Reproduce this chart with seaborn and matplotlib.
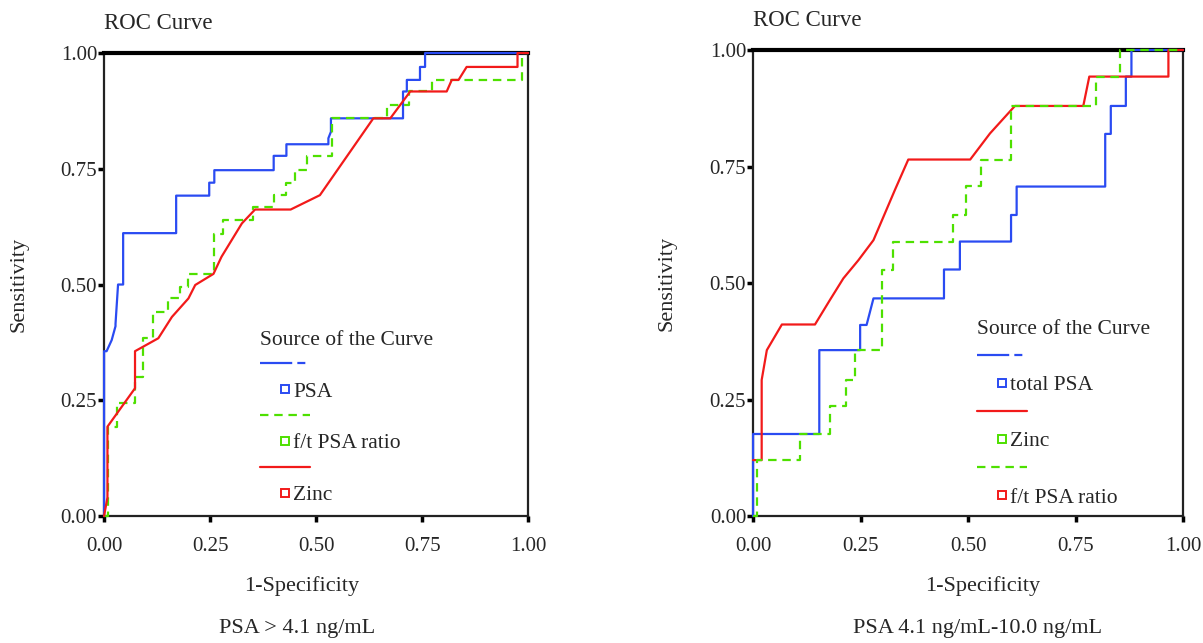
import matplotlib.pyplot as plt
import pandas as pd
import seaborn as sns
from matplotlib.lines import Line2D

sns.set_style("ticks")
plt.rcParams["font.family"] = ["Liberation Serif", "DejaVu Serif"]

BLUE = "#2a4bf2"
GREEN = "#4ee000"
RED = "#f21a1a"
GREEN_DASH = (0, (3.8, 2.6))

TICKS = [0.0, 0.25, 0.5, 0.75, 1.0]
TICK_LABELS = ["0.00", "0.25", "0.50", "0.75", "1.00"]

# left panel, PSA > 4.1 ng/mL
left_psa_fpr = [0, 0, 0.006, 0.018, 0.018, 0.027, 0.027, 0.033, 0.045, 0.045, 0.17, 0.17,
                0.248, 0.248, 0.26, 0.26, 0.40, 0.40, 0.43, 0.43, 0.529, 0.529, 0.535, 0.535,
                0.705, 0.705, 0.714, 0.714, 0.745, 0.745, 0.757, 0.757, 1.0]
left_psa_tpr = [0, 0.356, 0.356, 0.38, 0.38, 0.41, 0.415, 0.50, 0.50, 0.611, 0.611, 0.692,
                0.692, 0.72, 0.72, 0.747, 0.747, 0.778, 0.778, 0.803, 0.803, 0.816, 0.83, 0.859,
                0.859, 0.917, 0.917, 0.942, 0.942, 0.970, 0.970, 1.0, 1.0]

left_ratio_fpr = [0, 0.01, 0.01, 0.03, 0.03, 0.073, 0.073, 0.093, 0.093, 0.116, 0.116, 0.15,
                  0.15, 0.179, 0.179, 0.199, 0.199, 0.26, 0.26, 0.281, 0.281, 0.351, 0.351,
                  0.40, 0.40, 0.43, 0.43, 0.45, 0.45, 0.478, 0.478, 0.537, 0.537, 0.667, 0.667,
                  0.718, 0.718, 0.773, 0.773, 0.985, 0.985, 1.0]
left_ratio_tpr = [0, 0, 0.193, 0.193, 0.245, 0.245, 0.30, 0.30, 0.384, 0.384, 0.441, 0.441,
                  0.47, 0.47, 0.495, 0.495, 0.523, 0.523, 0.61, 0.61, 0.639, 0.639, 0.667,
                  0.667, 0.693, 0.693, 0.72, 0.72, 0.747, 0.747, 0.778, 0.778, 0.859, 0.859,
                  0.888, 0.888, 0.917, 0.917, 0.942, 0.942, 1.0, 1.0]

left_zinc_fpr = [0, 0.008, 0.008, 0.073, 0.073, 0.128, 0.16, 0.199, 0.215, 0.258, 0.277,
                 0.325, 0.356, 0.44, 0.509, 0.572, 0.635, 0.675, 0.722, 0.808, 0.82, 0.836,
                 0.855, 0.975, 0.975, 1.0]
left_zinc_tpr = [0, 0.04, 0.193, 0.276, 0.356, 0.384, 0.43, 0.47, 0.499, 0.523, 0.56,
                 0.632, 0.662, 0.662, 0.693, 0.776, 0.859, 0.859, 0.917, 0.917, 0.942, 0.942,
                 0.970, 0.970, 1.0, 1.0]

# right panel, PSA 4.1-10.0 ng/mL
right_psa_fpr = [0, 0, 0.154, 0.154, 0.249, 0.249, 0.264, 0.28, 0.444, 0.444, 0.481, 0.481,
                 0.60, 0.60, 0.613, 0.613, 0.819, 0.819, 0.832, 0.832, 0.867, 0.867, 0.88,
                 0.88, 1.0]
right_psa_tpr = [0, 0.176, 0.176, 0.356, 0.356, 0.41, 0.41, 0.467, 0.467, 0.529, 0.529, 0.589,
                 0.589, 0.646, 0.646, 0.707, 0.707, 0.82, 0.82, 0.88, 0.88, 0.943, 0.943, 1.0,
                 1.0]

right_zinc_fpr = [0, 0.005, 0.02, 0.02, 0.032, 0.067, 0.144, 0.179, 0.21, 0.245, 0.28, 0.33,
                  0.361, 0.505, 0.551, 0.609, 0.768, 0.782, 0.966, 0.966, 1.0]
right_zinc_tpr = [0.12, 0.12, 0.12, 0.292, 0.356, 0.411, 0.411, 0.464, 0.51, 0.549, 0.592,
                  0.70, 0.765, 0.765, 0.821, 0.88, 0.88, 0.943, 0.943, 1.0, 1.0]

right_ratio_fpr = [0, 0.008, 0.008, 0.108, 0.108, 0.18, 0.18, 0.216, 0.216, 0.237, 0.237,
                   0.30, 0.30, 0.326, 0.326, 0.466, 0.466, 0.495, 0.495, 0.53, 0.53, 0.60,
                   0.60, 0.798, 0.798, 0.853, 0.853, 1.0]
right_ratio_tpr = [0, 0, 0.12, 0.12, 0.177, 0.177, 0.236, 0.236, 0.292, 0.292, 0.356,
                   0.356, 0.529, 0.529, 0.589, 0.589, 0.646, 0.646, 0.708, 0.708, 0.765,
                   0.765, 0.88, 0.88, 0.943, 0.943, 1.0, 1.0]


def curves_frame(curves):
    parts = []
    for name, fpr, tpr in curves:
        parts.append(pd.DataFrame({"fpr": fpr, "tpr": tpr, "curve": name}))
    return pd.concat(parts, ignore_index=True)


def draw_panel(ax, curves, colors, dashes, legend_rows, legend_anchor, spacing,
               xlabel_x, subtitle_x, subtitle):
    df = curves_frame(curves)
    sns.lineplot(data=df, x="fpr", y="tpr", hue="curve", style="curve",
                 palette=colors, dashes=dashes, sort=False, estimator=None,
                 legend=False, lw=1.6, ax=ax)
    for line in ax.lines:
        line.set_clip_on(False)
        line.set_zorder(3)

    ax.set_xlim(0, 1)
    ax.set_ylim(0, 1)
    ax.set_xticks(TICKS, TICK_LABELS)
    ax.set_yticks(TICKS, TICK_LABELS)
    ax.tick_params(direction="out", length=4, width=2.5, labelsize=15, color="black")
    ax.tick_params(axis="x", pad=11)
    ax.tick_params(axis="y", pad=1)
    for side in ["left", "right", "bottom"]:
        ax.spines[side].set_linewidth(1.6)
        ax.spines[side].set_color("#222222")
    ax.spines["top"].set_linewidth(3)
    ax.spines["top"].set_color("black")

    ax.set_title("ROC Curve", loc="left", fontsize=16.5, pad=17)
    ax.set_ylabel("Sensitivity", fontsize=16)
    ax.yaxis.set_label_coords(-0.178, 0.5)
    ax.set_xlabel("1-Specificity", fontsize=16)
    ax.xaxis.set_label_coords(xlabel_x, -0.13)
    ax.text(subtitle_x, -0.242, subtitle, transform=ax.transAxes,
            ha="center", va="center", fontsize=16)

    handles, labels = [], []
    for line_color, line_style, square_color, label in legend_rows:
        handles.append(Line2D([], [], color=line_color, lw=1.6, linestyle=line_style))
        labels.append("")
        handles.append(Line2D([], [], linestyle="none", marker="s", markersize=5.5,
                              markerfacecolor="white", markeredgecolor=square_color,
                              markeredgewidth=1.4))
        labels.append(label)
    ax.legend(handles, labels, title="Source of the Curve", loc="upper left",
              bbox_to_anchor=legend_anchor, frameon=False, alignment="left",
              handlelength=2.3, handletextpad=-0.75, labelspacing=spacing,
              borderpad=0, borderaxespad=0, fontsize=15.5, title_fontsize=15.5)


fig = plt.figure(figsize=(12.03, 6.43), dpi=100)
ax_left = fig.add_axes([0.0865, 0.1975, 0.3525, 0.720])
ax_right = fig.add_axes([0.626, 0.1975, 0.3574, 0.7247])

blue_legend = (0, (14.5, 2.3, 3.6, 30))

draw_panel(
    ax_left,
    [("PSA", left_psa_fpr, left_psa_tpr),
     ("f/t PSA ratio", left_ratio_fpr, left_ratio_tpr),
     ("Zinc", left_zinc_fpr, left_zinc_tpr)],
    {"PSA": BLUE, "f/t PSA ratio": GREEN, "Zinc": RED},
    {"PSA": "", "f/t PSA ratio": GREEN_DASH[1], "Zinc": ""},
    [(BLUE, blue_legend, BLUE, "PSA"),
     (GREEN, GREEN_DASH, GREEN, "f/t PSA ratio"),
     (RED, "-", RED, "Zinc")],
    (0.368, 0.40), 0.27,
    0.465, 0.456, "PSA > 4.1 ng/mL",
)

draw_panel(
    ax_right,
    [("total PSA", right_psa_fpr, right_psa_tpr),
     ("Zinc", right_zinc_fpr, right_zinc_tpr),
     ("f/t PSA ratio", right_ratio_fpr, right_ratio_tpr)],
    {"total PSA": BLUE, "Zinc": RED, "f/t PSA ratio": GREEN},
    {"total PSA": "", "Zinc": "", "f/t PSA ratio": GREEN_DASH[1]},
    [(BLUE, blue_legend, BLUE, "total PSA"),
     (RED, "-", GREEN, "Zinc"),
     (GREEN, GREEN_DASH, RED, "f/t PSA ratio")],
    (0.521, 0.42), 0.37,
    0.533, 0.522, "PSA 4.1 ng/mL-10.0 ng/mL",
)

fig.savefig("out.png", dpi=100)
